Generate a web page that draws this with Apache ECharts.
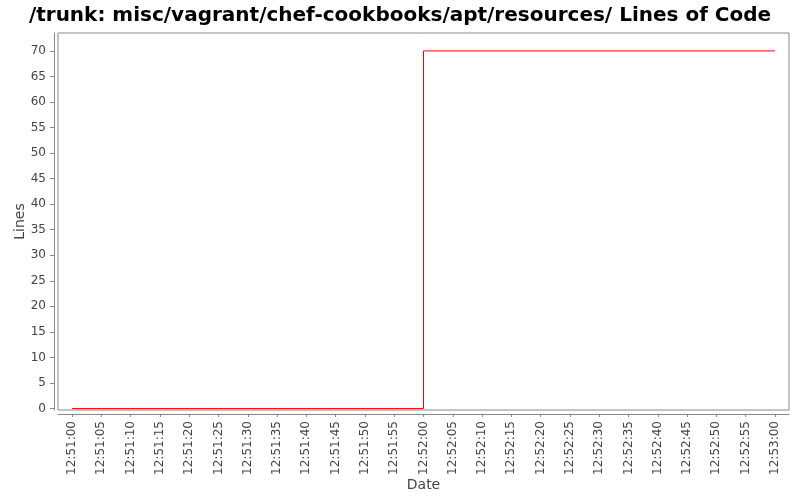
<!DOCTYPE html>
<html>
<head>
<meta charset="utf-8">
<script src="https://cdn.jsdelivr.net/npm/echarts@6/dist/echarts.min.js"></script>
<style>html,body{margin:0;padding:0;background:#fff}#c{width:800px;height:500px}</style>
</head>
<body>
<div id="c"></div>
<script>
var titleText = "/trunk: misc/vagrant/chef-cookbooks/apt/resources/ Lines of Code";
var times = ["12:51:00", "12:52:00", "12:53:00"];
var lines = [0, 70, 70];
var xTickLabels = ["12:51:00","12:51:05","12:51:10","12:51:15","12:51:20","12:51:25","12:51:30","12:51:35","12:51:40","12:51:45","12:51:50","12:51:55","12:52:00","12:52:05","12:52:10","12:52:15","12:52:20","12:52:25","12:52:30","12:52:35","12:52:40","12:52:45","12:52:50","12:52:55","12:53:00"];
var yTicks = [0,5,10,15,20,25,30,35,40,45,50,55,60,65,70];

function toSec(s){ var p = s.split(":").map(Number); return p[0]*3600 + p[1]*60 + p[2]; }
var base = toSec(times[0]);
function fmt(v){
  var t = Math.round(v + base);
  var h = Math.floor(t/3600), m = Math.floor((t%3600)/60), s = t%60;
  return h + ":" + (m<10?"0":"") + m + ":" + (s<10?"0":"") + s;
}
var xTickVals = xTickLabels.map(function(s){ return toSec(s) - base; });
var data = times.map(function(t,i){ return [toSec(t)-base, lines[i]]; });

var chart = echarts.init(document.getElementById('c'));
var font = 'DejaVu Sans';
chart.setOption({
  animation: false,
  backgroundColor: '#fff',
  title: {
    text: titleText, left: 'center', top: 1,
    textStyle: { fontFamily: font, fontWeight: 'bold', fontSize: 20, color: '#000' }
  },
  grid: { left: 58, right: 11, top: 33, bottom: 90, show: true, borderColor: '#888', borderWidth: 1, backgroundColor: '#fff' },
  xAxis: {
    type: 'value', min: -2.4, max: 122.4, offset: 4,
    name: 'Date', nameLocation: 'middle', nameGap: 64, nameMoveOverlap: false,
    nameTextStyle: { fontFamily: font, fontSize: 14, color: '#444' },
    axisLine: { onZero: false, lineStyle: { color: '#888' } },
    axisTick: { customValues: xTickVals, length: 3, lineStyle: { color: '#888' } },
    axisLabel: { customValues: xTickVals, rotate: 90, margin: 7, fontFamily: font, fontSize: 12, color: '#444', formatter: fmt },
    splitLine: { show: false }
  },
  yAxis: {
    type: 'value', min: -0.3, max: 73.5, offset: 4,
    name: 'Lines', nameLocation: 'middle', nameGap: 27, nameMoveOverlap: false,
    nameTextStyle: { fontFamily: font, fontSize: 14, color: '#444' },
    axisLine: { show: true, onZero: false, lineStyle: { color: '#888' } },
    axisTick: { show: true, customValues: yTicks, length: 4, lineStyle: { color: '#888' } },
    axisLabel: { customValues: yTicks, margin: 8, fontFamily: font, fontSize: 12, color: '#444' },
    splitLine: { show: false }
  },
  series: [{
    type: 'line', step: 'end', data: data, symbol: 'none',
    lineStyle: { color: '#ff0000', width: 1 }
  }]
});
</script>
</body>
</html>
